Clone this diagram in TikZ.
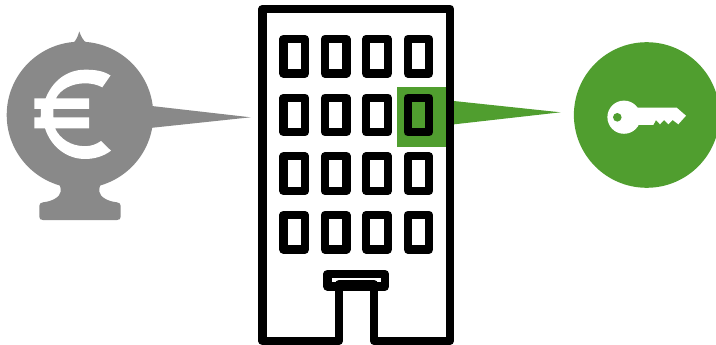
\documentclass[tikz,border=0pt]{standalone}
\definecolor{gris}{HTML}{898989}
\definecolor{vert}{HTML}{509E2F}
\tikzset{
  wall/.style={draw=black,line width=8.2pt,line join=round},
  win/.style={draw=black,line width=8.2pt,line join=round},
  graybody/.style={fill=gris,draw=none},
  greenbody/.style={fill=vert,draw=none},
  cutout/.style={fill=white,draw=none}
}
\begin{document}
\begin{tikzpicture}[x=1pt,y=-1pt]
\useasboundingbox (0,0) rectangle (716,345);
% gray balloon
\fill[graybody] (80,115) circle (73.3);
\fill[graybody] (73,43) .. controls (76,41) and (78,36) .. (79.3,31.5) .. controls (81,36) and (83,41) .. (87,43) -- cycle;
\fill[graybody] (150,105.8) -- (250.5,117.3) -- (150,128) -- cycle;
\fill[graybody] (57,182) .. controls (60,184) and (61,188) .. (60.7,191.7) .. controls (60,197) and (52,201.5) .. (43,202.3) .. controls (40.5,202.6) and (39.3,204) .. (39.3,206) -- (39.3,216.5) .. controls (39.3,219) and (40.5,220) .. (43,220) -- (117,220) .. controls (119.5,220) and (120.7,219) .. (120.7,216.5) -- (120.7,206) .. controls (120.7,204) and (119.5,202.6) .. (117,202.3) .. controls (108,201.5) and (100,197) .. (99.3,191.7) .. controls (99,188) and (100,184) .. (103,182) -- cycle;
% euro
\fill[cutout] (110.5,75.5) .. controls (103,70.5) and (94,69.7) .. (85,69.7) .. controls (66,69.7) and (52,82) .. (45.7,98.3) -- (34.3,98.3) -- (34.3,109) -- (41,109) -- (40.7,117.3) -- (34.3,117.3) -- (34.3,128.3) -- (45,128.3) .. controls (51,147) and (67,159) .. (85,159) .. controls (95,159) and (104,156) .. (111,150.7) -- (101,141) .. controls (96,144.5) and (91,146.2) .. (85,146.2) .. controls (71,146.2) and (60,139) .. (55,128.3) -- (89,128.3) -- (89,117.3) -- (53.3,117.3) -- (53.3,109) -- (89,109) -- (89,98.3) -- (56,98.3) .. controls (60,90) and (71,83.3) .. (85,83.3) .. controls (91,83.3) and (97,84.5) .. (102.3,87.3) -- cycle;
% green
\fill[greenbody] (397,87) rectangle (447,147);
\fill[greenbody] (450,100.6) -- (560.5,112.3) -- (450,124.8) -- cycle;
\fill[greenbody] (646.7,115) circle (72.8);
% key
\fill[cutout] (624,117.2) circle (16.6);
\fill[cutout] (632,107.7) -- (676.7,107.7) -- (686,115.7) -- (678.3,124.3) -- (672.7,120) -- (668.3,124.3) -- (664,120) -- (660,124.3) -- (656,120) -- (653.3,125) -- (632,125) -- cycle;
\fill[greenbody] (617.3,117.3) circle (4.3);
% building
\draw[wall] (339,341) -- (262.5,341) -- (262.5,8.7) -- (450,8.7) -- (450,341) -- (374,341) -- (374,284) -- (339,284) -- cycle;
\draw[win] (327.5,274) rectangle (385,286.5);
\foreach \r in {39,97.7,156.4,215}{
  \foreach \c in {283.5,324.9,366.3,407.7}{
    \draw[win] (\c,\r) rectangle +(21.5,34.5);
  }
}
\end{tikzpicture}
\end{document}
